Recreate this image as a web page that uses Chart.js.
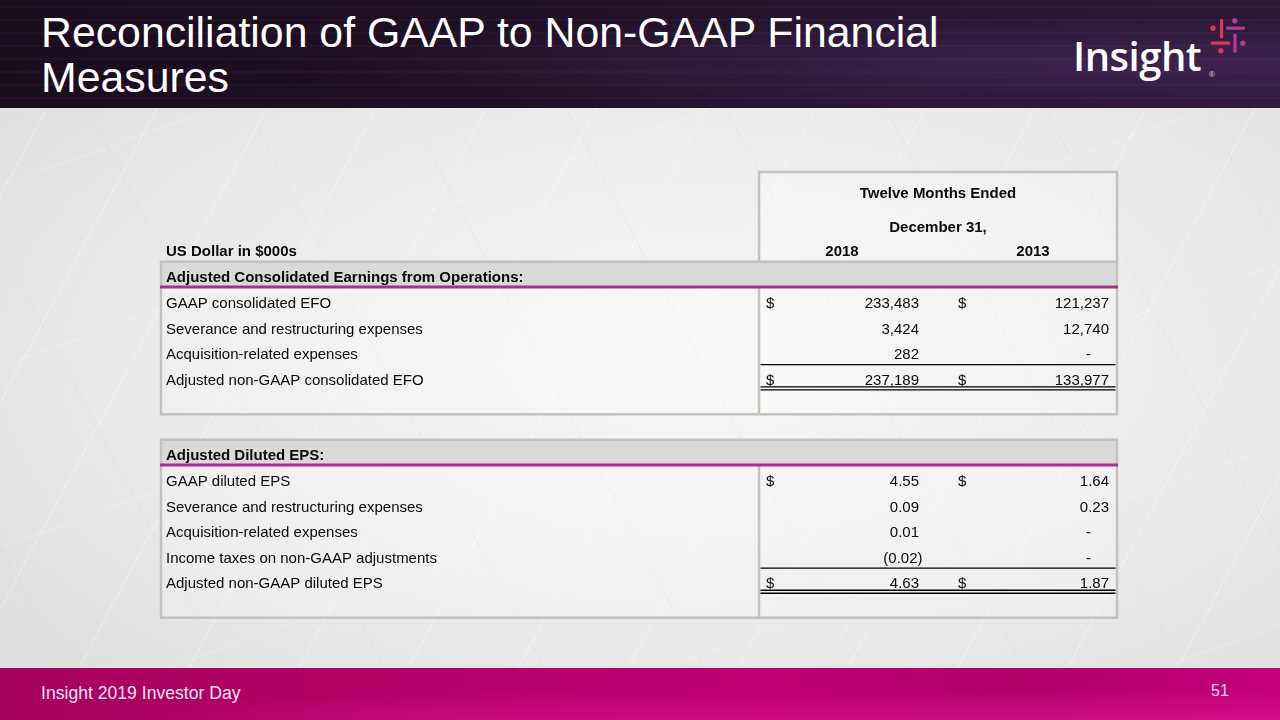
<!DOCTYPE html>
<html><head><meta charset="utf-8">
<script src="https://cdn.jsdelivr.net/npm/chart.js@4/dist/chart.umd.min.js"></script>
<style>
html,body{margin:0;padding:0;width:1280px;height:720px;overflow:hidden;}
body{position:relative;font-family:'Liberation Sans',Arial,sans-serif;
 background:radial-gradient(ellipse at 55% 50%, #f6f6f6 0%, #ededed 45%, #dcdcdc 100%);}
#tex{position:absolute;left:0;top:108px;width:1280px;height:560px;background:
 repeating-linear-gradient(118deg, rgba(255,255,255,0) 0 41px, rgba(255,255,255,0.35) 41px 42px, rgba(255,255,255,0) 42px 97px),
 repeating-linear-gradient(62deg, rgba(190,190,190,0) 0 57px, rgba(185,185,185,0.12) 57px 58px, rgba(190,190,190,0) 58px 141px),
 repeating-linear-gradient(160deg, rgba(255,255,255,0) 0 73px, rgba(255,255,255,0.25) 73px 74px, rgba(255,255,255,0) 74px 170px);}
#hdr{position:absolute;left:0;top:0;width:1280px;height:108px;
 background:
 repeating-linear-gradient(180deg, rgba(150,100,170,0) 0 6px, rgba(150,100,170,0.06) 6px 8px, rgba(150,100,170,0) 8px 13px),
 radial-gradient(ellipse at 90% 60%, rgba(110,60,140,0.3) 0%, rgba(110,60,140,0) 55%),
 linear-gradient(90deg,#190d1c 0%, #1f1124 40%, #261530 70%, #2a1835 100%);}
#title{position:absolute;left:41px;top:10px;color:#fff;font:42.8px/45px 'Liberation Sans',Arial,sans-serif;white-space:nowrap;}
#logo{position:absolute;left:1073px;top:36px;color:#fff;font:600 40px/40px 'Open Sans',sans-serif;letter-spacing:-0.5px;}
#reg{position:absolute;left:1209px;top:71px;color:#ddd;font:8px/8px 'Liberation Sans',Arial,sans-serif;}
#ftr{position:absolute;left:0;top:668px;width:1280px;height:52px;
 background:
 radial-gradient(ellipse at 88% 120%, rgba(240,40,170,0.55) 0%, rgba(240,40,170,0) 45%),
 radial-gradient(ellipse at 40% 100%, rgba(230,30,150,0.35) 0%, rgba(230,30,150,0) 40%),
 linear-gradient(90deg,#a6005e 0%, #b4006b 35%, #bd0074 60%, #b1006a 80%, #c2007b 100%);}
#ftxt{position:absolute;left:41px;top:15px;color:#f6e0ef;font:17.6px/20px 'Liberation Sans',Arial,sans-serif;white-space:nowrap;}
#pg{position:absolute;left:1211px;top:13.5px;color:#f3d4ea;font:16px/18px 'Liberation Sans',Arial,sans-serif;}
#tbl{position:absolute;left:150px;top:160px;}
</style></head>
<body>
<div id="tex"></div>
<div id="hdr">
 <div id="title">Reconciliation of GAAP to Non-GAAP Financial<br>Measures</div>
 <div id="logo">Insight</div>
 <div id="reg">®</div>
 <svg width="1280" height="108" style="position:absolute;left:0;top:0">
  <rect x="1220" y="19" width="3.2" height="19.5" rx="1.4" fill="#e3335d"/>
  <circle cx="1213" cy="28.3" r="2.7" fill="#e3335d"/>
  <rect x="1226" y="26.5" width="19" height="3.2" rx="1.4" fill="#b23a9c"/>
  <circle cx="1234.8" cy="20.8" r="2.7" fill="#b23a9c"/>
  <rect x="1210.8" y="41.6" width="19.2" height="3.2" rx="1.4" fill="#e3335d"/>
  <circle cx="1220.8" cy="50.8" r="2.7" fill="#e3335d"/>
  <rect x="1233.4" y="33.4" width="3.2" height="19.4" rx="1.4" fill="#b23a9c"/>
  <circle cx="1242.8" cy="43.3" r="2.7" fill="#b23a9c"/>
 </svg>
</div>
<div id="ftr"><div id="ftxt">Insight 2019 Investor Day</div><div id="pg">51</div></div>
<canvas id="tbl" width="980" height="470"></canvas>
<script>
// ---- data ----
const headerLines = ['Twelve Months Ended', 'December 31,'];
const unitLabel = 'US Dollar in $000s';
const years = ['2018', '2013'];

const efoTitle = 'Adjusted Consolidated Earnings from Operations:';
const efoRows = ['GAAP consolidated EFO', 'Severance and restructuring expenses', 'Acquisition-related expenses', 'Adjusted non-GAAP consolidated EFO'];
const efo2018 = [233483, 3424, 282, 237189];
const efo2013 = [121237, 12740, 0, 133977];

const epsTitle = 'Adjusted Diluted EPS:';
const epsRows = ['GAAP diluted EPS', 'Severance and restructuring expenses', 'Acquisition-related expenses', 'Income taxes on non-GAAP adjustments', 'Adjusted non-GAAP diluted EPS'];
const eps2018 = [4.55, 0.09, 0.01, -0.02, 4.63];
const eps2013 = [1.64, 0.23, 0, 0, 1.87];

// ---- build row slots for the category axis ----
const sections = [
  {title: efoTitle, rows: efoRows, a: efo2018, b: efo2013, dec: 0},
  {title: epsTitle, rows: epsRows, a: eps2018, b: eps2013, dec: 2}
];
const slots = [{k:'h1', label:headerLines[0]}, {k:'h2', label:headerLines[1]}, {k:'years', label:unitLabel}];
sections.forEach((s, si) => {
  if (si > 0) slots.push({k:'gap', label:'gap' + si});
  s.start = slots.length;
  slots.push({k:'sec', label:s.title});
  s.rows.forEach((r, ri) => slots.push({k:'row', label:r, s, ri}));
  s.total = slots.length - 1;
  s.blank = slots.length;
  slots.push({k:'blank', label:'blank' + si});
});

function fmt(v, dec) {
  if (v === 0) return '-';
  const t = Math.abs(v).toLocaleString('en-US', {minimumFractionDigits: dec, maximumFractionDigits: dec});
  return v < 0 ? '(' + t + ')' : t;
}

const FONT = '"Liberation Sans", Arial, sans-serif';
const tablePlugin = {
  id: 'table',
  afterDraw(chart) {
    const ctx = chart.ctx, y = chart.scales.y, ca = chart.chartArea;
    const L = ca.left, R = ca.right;
    const pitch = y.getPixelForValue(1) - y.getPixelForValue(0);
    const cy = i => y.getPixelForValue(i);
    const top = i => cy(i) - pitch / 2, bot = i => cy(i) + pitch / 2;
    const sepX = L + 598, d1 = L + 605, r1 = L + 758, d2 = L + 797, r2 = L + 948;
    const c1 = L + 681, c2 = L + 872, hc = L + 777;
    const border = '#c6c1bb';
    ctx.save();
    // header box
    const hTop = top(0) - 13.4, hBot = top(3);
    ctx.fillStyle = 'rgba(255,255,255,0.25)';
    ctx.fillRect(sepX, hTop, R - sepX, hBot - hTop);
    ctx.strokeStyle = border; ctx.lineWidth = 2.5;
    ctx.beginPath();
    ctx.moveTo(sepX, hBot); ctx.lineTo(sepX, hTop); ctx.lineTo(R, hTop); ctx.lineTo(R, hBot);
    ctx.stroke();
    // sections
    sections.forEach(s => {
      const t = top(s.start), b = bot(s.blank);
      ctx.fillStyle = 'rgba(255,255,255,0.25)';
      ctx.fillRect(L, t, R - L, b - t);
      ctx.fillStyle = '#d9d9d9';
      ctx.fillRect(L, t, R - L, pitch);
      ctx.strokeStyle = border; ctx.lineWidth = 2.5;
      ctx.strokeRect(L, t, R - L, b - t);
      ctx.beginPath(); ctx.moveTo(sepX, t + pitch); ctx.lineTo(sepX, b); ctx.stroke();
      ctx.strokeStyle = '#a3318e'; ctx.lineWidth = 3;
      ctx.beginPath(); ctx.moveTo(L - 1, t + pitch); ctx.lineTo(R + 1, t + pitch); ctx.stroke();
      // total lines
      const ti = s.total;
      ctx.strokeStyle = '#000'; ctx.lineWidth = 1.3;
      ctx.beginPath();
      ctx.moveTo(sepX + 1.5, top(ti) + 1.2); ctx.lineTo(R - 1.5, top(ti) + 1.2);
      ctx.moveTo(sepX + 1.5, bot(ti) - 2); ctx.lineTo(R - 1.5, bot(ti) - 2);
      ctx.moveTo(sepX + 1.5, bot(ti) + 1); ctx.lineTo(R - 1.5, bot(ti) + 1);
      ctx.stroke();
    });
    // text
    ctx.fillStyle = '#0a0a0a';
    ctx.textBaseline = 'alphabetic';
    const bold = 'bold 15px ' + FONT, reg = '15px ' + FONT;
    slots.forEach((sl, i) => {
      const c = cy(i);
      if (sl.k === 'h1') {
        ctx.font = bold; ctx.textAlign = 'center'; ctx.fillText(sl.label, hc, c - 6 + 5.4);
      } else if (sl.k === 'h2') {
        ctx.font = bold; ctx.textAlign = 'center'; ctx.fillText(sl.label, hc, c + 3.5 + 5.4);
      } else if (sl.k === 'years') {
        ctx.font = bold; ctx.textAlign = 'left'; ctx.fillText(sl.label, L + 5, c + 2 + 5.4);
        ctx.textAlign = 'center';
        ctx.fillText(years[0], c1, c + 2 + 5.4);
        ctx.fillText(years[1], c2, c + 2 + 5.4);
      } else if (sl.k === 'sec') {
        ctx.font = bold; ctx.textAlign = 'left'; ctx.fillText(sl.label, L + 5, c + 2 + 5.4);
      } else if (sl.k === 'row') {
        const s = sl.s, ri = sl.ri, by = c + 3 + 5.4;
        ctx.font = reg; ctx.textAlign = 'left';
        ctx.fillText(sl.label, L + 5, by);
        if (ri === 0 || ri === s.rows.length - 1) {
          ctx.fillText('$', d1, by); ctx.fillText('$', d2, by);
        }
        ctx.textAlign = 'right';
        [[s.a[ri], r1], [s.b[ri], r2]].forEach(([v, rx]) => {
          const txt = fmt(v, s.dec);
          const x = v === 0 ? rx - 18 : (v < 0 ? rx + 3.5 : rx);
          ctx.fillText(txt, x, by);
        });
      }
    });
    ctx.restore();
  }
};

new Chart(document.getElementById('tbl'), {
  type: 'bar',
  data: { labels: slots.map(s => s.label), datasets: [] },
  options: {
    indexAxis: 'y',
    responsive: false,
    animation: false,
    devicePixelRatio: 1,
    layout: { padding: { left: 11, right: 13, top: 25.4, bottom: 12.3 } },
    plugins: { legend: { display: false }, tooltip: { enabled: false } },
    scales: {
      x: { type: 'linear', display: false, min: 0, max: 1 },
      y: { type: 'category', display: false, offset: true, grid: { display: false } }
    }
  },
  plugins: [tablePlugin]
});
</script>
</body></html>
